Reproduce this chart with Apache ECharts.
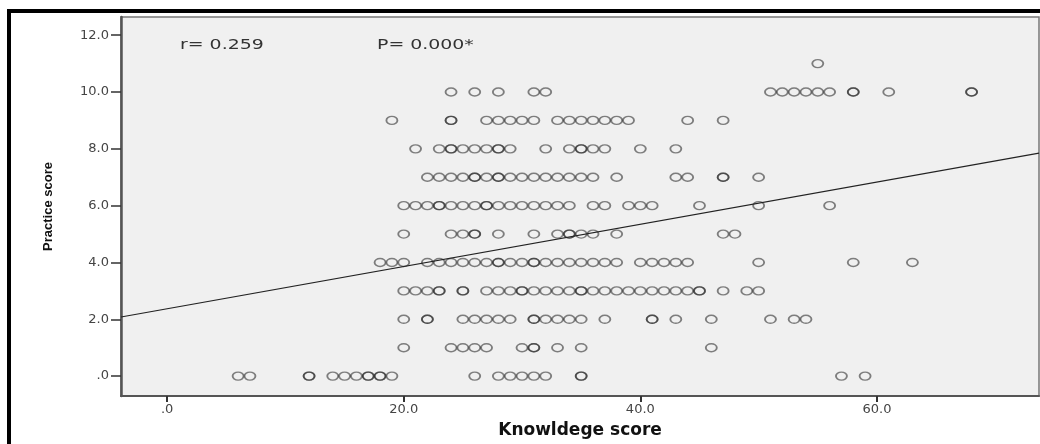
<!DOCTYPE html>
<html>
<head>
<meta charset="utf-8">
<script src="https://cdn.jsdelivr.net/npm/echarts@6/dist/echarts.min.js"></script>
<style>
  html, body { margin: 0; padding: 0; background: #fff; }
  #chart { width: 1040px; height: 444px; }
</style>
</head>
<body>
<div id="chart"></div>
<script>
// knowledge scores of the respondents, one array per practice score
const row11 = [55];
const row10 = [24, 26, 28, 31, 32, 51, 52, 53, 54, 55, 56, 58, 58, 61, 68, 68];
const row9 = [19, 24, 24, 27, 28, 29, 30, 31, 33, 34, 35, 36, 37, 38, 39, 44, 47];
const row8 = [21, 23, 24, 24, 25, 26, 27, 28, 28, 29, 32, 34, 35, 35, 36, 37, 40, 43];
const row7 = [22, 23, 24, 25, 26, 26, 27, 28, 28, 29, 30, 31, 32, 33, 34, 35, 36, 38, 43, 44, 47, 47, 50];
const row6 = [20, 21, 22, 23, 23, 24, 25, 26, 27, 27, 28, 29, 30, 31, 32, 33, 34, 36, 37, 39, 40, 41, 45, 50, 56];
const row5 = [20, 24, 25, 26, 26, 28, 31, 33, 34, 34, 35, 36, 38, 47, 48];
const row4 = [18, 19, 20, 22, 23, 24, 25, 26, 27, 28, 28, 29, 30, 31, 31, 32, 33, 34, 35, 36, 37, 38, 40, 41, 42, 43, 44, 50, 58, 63];
const row3 = [20, 21, 22, 23, 23, 25, 25, 27, 28, 29, 30, 30, 31, 32, 33, 34, 35, 35, 36, 37, 38, 39, 40, 41, 42, 43, 44, 45, 45, 47, 49, 50];
const row2 = [20, 22, 22, 25, 26, 27, 28, 29, 31, 31, 32, 33, 34, 35, 37, 41, 41, 43, 46, 51, 53, 54];
const row1 = [20, 24, 25, 26, 27, 30, 31, 31, 33, 35, 46];
const row0 = [6, 7, 12, 12, 14, 15, 16, 17, 17, 18, 18, 19, 26, 28, 29, 30, 31, 32, 35, 35, 57, 59];

const practiceRows = [row0, row1, row2, row3, row4, row5, row6, row7, row8, row9, row10, row11];

// fitted line, read at the left and right edges of the plot
const fitX = [-3.9, 73.7];
const fitY = [2.08, 7.85];

const xTicks = [0, 20, 40, 60];
const yTicks = [0, 2, 4, 6, 8, 10, 12];

const points = [];
practiceRows.forEach((row, practice) => {
  row.forEach(k => points.push([k, practice]));
});

const fmt = v => (v === 0 ? ".0" : v.toFixed(1));

const chart = echarts.init(document.getElementById("chart"));
chart.setOption({
  animation: false,
  backgroundColor: "#fff",
  grid: {
    left: 121,
    right: 1,
    top: 17,
    bottom: 48,
    containLabel: false,
    outerBoundsMode: "none",
    show: true,
    backgroundColor: "#f0f0f0",
    borderColor: "#777",
    borderWidth: 1.5
  },
  xAxis: {
    type: "value",
    min: -3.9,
    max: 73.7,
    name: "Knowldege score",
    nameLocation: "middle",
    nameGap: 26,
    nameTextStyle: { fontFamily: "DejaVu Sans", fontWeight: "bold", fontSize: 17, color: "#111" },
    axisLine: { show: true, onZero: false, lineStyle: { color: "#555", width: 2 } },
    axisTick: { show: true, customValues: xTicks, length: 6, lineStyle: { color: "#333", width: 2 } },
    axisLabel: {
      customValues: xTicks,
      formatter: fmt,
      margin: 7,
      fontFamily: "DejaVu Sans",
      fontSize: 13,
      color: "#444"
    },
    splitLine: { show: false }
  },
  yAxis: {
    type: "value",
    min: -0.7,
    max: 12.64,
    name: "Practice score",
    nameLocation: "middle",
    nameGap: 66,
    nameRotate: 90,
    nameTextStyle: { fontFamily: "Liberation Sans", fontWeight: "bold", fontSize: 13, color: "#111" },
    axisLine: { show: true, onZero: false, lineStyle: { color: "#555", width: 2.5 } },
    axisTick: { show: true, customValues: yTicks, length: 10, lineStyle: { color: "#333", width: 1.5 } },
    axisLabel: {
      customValues: yTicks,
      formatter: fmt,
      margin: 12,
      fontFamily: "DejaVu Sans",
      fontSize: 13,
      color: "#444"
    },
    splitLine: { show: false }
  },
  series: [
    {
      type: "scatter",
      data: points,
      symbol: "circle",
      symbolSize: [11, 8],
      itemStyle: {
        color: "transparent",
        borderColor: "rgba(40,40,40,0.72)",
        borderWidth: 1.6
      }
    },
    {
      type: "line",
      data: fitX.map((x, i) => [x, fitY[i]]),
      symbol: "none",
      lineStyle: { color: "#222", width: 1.2 },
      z: 3
    }
  ],
  graphic: [
    { type: "rect", shape: { x: 7, y: 9, width: 4, height: 435 }, style: { fill: "#000" } },
    { type: "rect", shape: { x: 7, y: 9, width: 1033, height: 4 }, style: { fill: "#000" } },
    {
      type: "text", x: 180, y: 38, scaleX: 1.35,
      style: { text: "r= 0.259", font: "14px 'DejaVu Sans'", fill: "#333" }
    },
    {
      type: "text", x: 377, y: 38, scaleX: 1.35,
      style: { text: "P= 0.000*", font: "14px 'DejaVu Sans'", fill: "#333" }
    }
  ]
});
</script>
</body>
</html>
